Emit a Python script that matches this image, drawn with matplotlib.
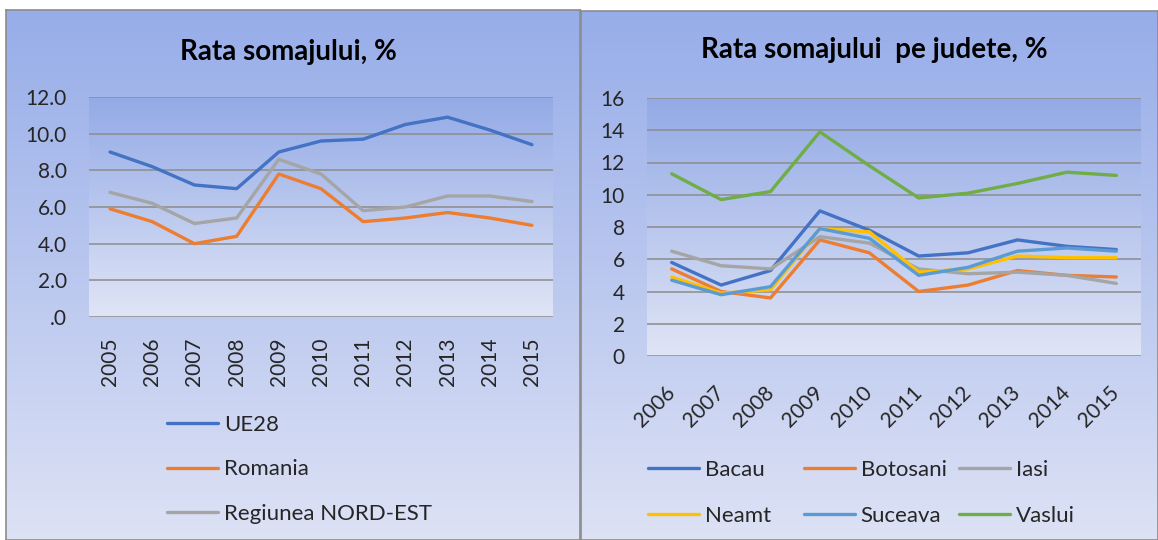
import matplotlib.pyplot as plt
import matplotlib.colors as mcolors
import numpy as np

plt.rcParams['font.family'] = ['Lato', 'DejaVu Sans']

#--- Data: left chart (national / regional rate)
years_left = ['2005', '2006', '2007', '2008', '2009', '2010',
              '2011', '2012', '2013', '2014', '2015']
ue28 = [9.0, 8.2, 7.2, 7.0, 9.0, 9.6, 9.7, 10.5, 10.9, 10.2, 9.4]
romania = [5.9, 5.2, 4.0, 4.4, 7.8, 7.0, 5.2, 5.4, 5.7, 5.4, 5.0]
nord_est = [6.8, 6.2, 5.1, 5.4, 8.6, 7.8, 5.8, 6.0, 6.6, 6.6, 6.3]

#--- Data: right chart (counties)
years_right = ['2006', '2007', '2008', '2009', '2010',
               '2011', '2012', '2013', '2014', '2015']
bacau = [5.8, 4.4, 5.3, 9.0, 7.8, 6.2, 6.4, 7.2, 6.8, 6.6]
botosani = [5.4, 4.0, 3.6, 7.2, 6.4, 4.0, 4.4, 5.3, 5.0, 4.9]
iasi = [6.5, 5.6, 5.4, 7.4, 7.0, 5.4, 5.1, 5.2, 5.0, 4.5]
neamt = [4.9, 3.9, 4.1, 7.9, 7.7, 5.2, 5.4, 6.2, 6.1, 6.1]
suceava = [4.7, 3.8, 4.3, 7.9, 7.3, 5.0, 5.5, 6.5, 6.7, 6.5]
vaslui = [11.3, 9.7, 10.2, 13.9, 11.8, 9.8, 10.1, 10.7, 11.4, 11.2]

c_blue = '#4472C4'
c_orange = '#ED7D31'
c_gray = '#A5A5A5'
c_yellow = '#FFC000'
c_lblue = '#5B9BD5'
c_green = '#70AD47'

W, H = 1158, 540
fig = plt.figure(figsize=(W / 100, H / 100), dpi=100)
fig.patch.set_facecolor('white')

panel_cmap = mcolors.LinearSegmentedColormap.from_list('panel', ['#dde2f5', '#97ade9'])
plot_cmap = mcolors.LinearSegmentedColormap.from_list('plotarea', ['#e0e5f6', '#93aae6'])
grad = np.linspace(0, 1, 256).reshape(-1, 1)

TICK_FS = 15
LEG_FS = 16
TITLE_FS = 20


def px_axes(x0, y0, x1, y1, **kw):
    # rectangle given in pixel coords (top-left origin)
    return fig.add_axes([x0 / W, 1 - y1 / H, (x1 - x0) / W, (y1 - y0) / H], **kw)


#--- Panel backgrounds
for (x0, x1, y0) in [(6, 580, 10), (581, 1158, 11)]:
    bg = px_axes(x0, y0, x1, H, zorder=-10)
    bg.imshow(grad, cmap=panel_cmap, aspect='auto', origin='lower', extent=[0, 1, 0, 1])
    bg.set_xlim(0, 1)
    bg.set_ylim(0, 1)
    bg.set_xticks([])
    bg.set_yticks([])
    for s in bg.spines.values():
        s.set_color('#8c8c8c')
        s.set_linewidth(1.2)


def style_axes(ax, ymax, step, nx, fmt):
    ax.set_facecolor('none')
    ax.imshow(grad, cmap=plot_cmap, aspect='auto', origin='lower',
              extent=[-0.5, nx - 0.5, 0, ymax], zorder=0)
    ax.set_xlim(-0.5, nx - 0.5)
    ax.set_ylim(0, ymax)
    yt = np.arange(0, ymax + step / 2, step)
    ax.set_yticks(yt)
    ax.set_yticklabels([fmt(v) for v in yt])
    for v in yt:
        ax.axhline(v, color='#8c8c8c', lw=1.1, zorder=1)
    for s in ax.spines.values():
        s.set_visible(False)
    ax.tick_params(length=0, labelsize=TICK_FS, labelcolor='#262626')
    ax.tick_params(axis='y', pad=16)


def legend_col(handles, labels, x, y, spacing):
    fig.legend(handles, labels, loc='upper left', bbox_to_anchor=(x / W, 1 - y / H),
               frameon=False, fontsize=LEG_FS, handlelength=2.3, handletextpad=0.25,
               labelspacing=spacing, borderpad=0, borderaxespad=0,
               labelcolor='#262626')


#--- Left chart
ax1 = px_axes(89, 97, 553, 317)
style_axes(ax1, 12, 2, len(years_left), lambda v: '.0' if v == 0 else f'{v:.1f}')
x1 = np.arange(len(years_left))
l_ue, = ax1.plot(x1, ue28, color=c_blue, lw=2.4, zorder=3, solid_capstyle='round')
l_ro, = ax1.plot(x1, romania, color=c_orange, lw=2.4, zorder=3, solid_capstyle='round')
l_ne, = ax1.plot(x1, nord_est, color=c_gray, lw=2.4, zorder=3, solid_capstyle='round')
ax1.set_xticks(x1)
ax1.set_xticklabels(years_left, rotation=90)
ax1.tick_params(axis='x', pad=15)
fig.text(288 / W, 1 - 52 / H, 'Rata somajului, %', ha='center', va='center',
         fontsize=TITLE_FS, fontweight='bold', color='black')

legend_col([l_ue, l_ro, l_ne], ['UE28', 'Romania', 'Regiunea NORD-EST'], 167, 415, 1.1)

#--- Right chart
ax2 = px_axes(647, 98, 1141, 356)
style_axes(ax2, 16, 2, len(years_right), lambda v: f'{v:.0f}')
x2 = np.arange(len(years_right))
series = [(bacau, c_blue, 'Bacau'), (botosani, c_orange, 'Botosani'),
          (iasi, c_gray, 'Iasi'), (neamt, c_yellow, 'Neamt'),
          (suceava, c_lblue, 'Suceava'), (vaslui, c_green, 'Vaslui')]
handles = {}
for vals, col, name in series:
    h, = ax2.plot(x2, vals, color=col, lw=2.4, zorder=3, solid_capstyle='round')
    handles[name] = h
ax2.set_xticks(x2)
ax2.set_xticklabels(years_right, rotation=45, ha='right', va='center',
                    rotation_mode='anchor')
ax2.tick_params(axis='x', pad=24)
fig.text(874 / W, 1 - 50 / H, 'Rata somajului  pe judete, %', ha='center', va='center',
         fontsize=TITLE_FS, fontweight='bold', color='black')

# legend laid out as three columns, two rows
for col_x, names in [(648, ['Bacau', 'Neamt']), (804, ['Botosani', 'Suceava']),
                     (959, ['Iasi', 'Vaslui'])]:
    legend_col([handles[n] for n in names], names, col_x, 460, 1.15)

plt.savefig('out.png', dpi=100)
plt.close()
